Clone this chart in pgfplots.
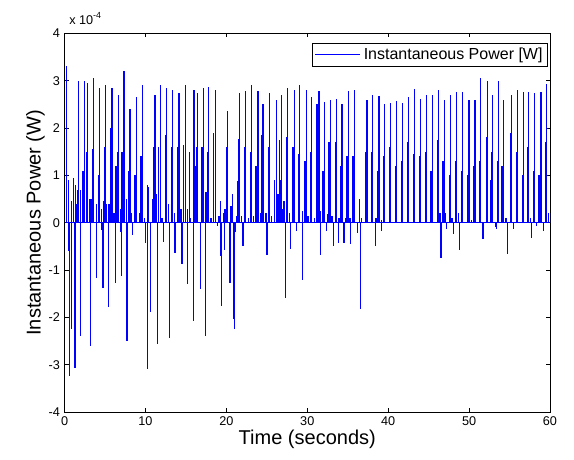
\documentclass[border=0pt]{standalone}
\usepackage{fontspec}
\setmainfont{Liberation Sans}
\usepackage{pgfplots}
\pgfplotsset{compat=1.18}

% spikes of the instantaneous power, in units of 1e-4 W
\pgfplotstableread{
t v
0.23 3.3
0.47 0.9
0.50 -0.6
0.60 -3.24
0.85 0.45
0.88 -2.25
1.09 0.95
1.30 -3.06
1.33 0.8
1.46 0.4
1.60 0.5
1.67 0.7
1.75 3.0
1.97 0.7
2.00 -2.4
2.29 1.1
2.45 3.0
2.70 1.5
2.86 2.95
3.11 0.5
3.24 -2.6
3.27 0.5
3.44 1.55
3.60 3.05
3.93 0.4
3.96 -1.16
4.22 1.0
4.35 2.85
4.55 0.3
4.58 -0.15
4.76 -1.37
4.80 0.45
4.93 1.6
5.09 2.9
5.20 0.4
5.46 -1.77
5.50 0.4
5.67 2.0
5.87 2.85
6.12 0.2
6.33 -1.28
6.36 1.2
6.53 1.5
6.65 2.7
6.90 0.3
6.93 -0.2
7.07 -1.13
7.10 1.5
7.36 3.2
7.68 0.5
7.73 -2.5
7.93 1.1
8.10 2.4
8.30 0.2
8.43 -0.25
8.71 1.0
8.92 2.65
9.29 0.2
9.46 1.4
9.62 2.9
9.87 0.1
9.99 -0.42
10.24 0.8
10.28 -3.1
10.40 0.75
10.65 -1.89
10.90 0.5
11.02 1.6
11.19 2.7
11.40 0.6
11.44 -0.67
11.52 -2.57
11.64 1.6
11.85 2.9
12.05 0.1
12.26 -0.4
12.46 1.85
12.59 2.85
12.83 0.4
13.00 -2.43
13.21 1.6
13.37 2.8
13.60 0.2
13.66 -0.63
13.99 1.6
14.15 2.75
14.40 0.3
14.52 -0.88
14.73 1.65
14.90 2.9
15.19 0.3
15.22 -1.3
15.47 1.5
15.60 0.1
15.92 -2.08
16.01 2.8
16.25 1.2
16.34 1.6
16.46 2.73
16.79 -1.4
16.91 0.6
17.00 1.6
17.16 2.85
17.45 -2.4
17.49 0.65
17.66 1.5
17.82 2.87
18.10 0.1
18.44 1.9
18.64 2.8
18.89 -0.07
19.10 0.15
19.30 0.45
19.33 -0.7
19.43 -1.76
19.60 0.2
19.80 -0.58
19.83 0.3
20.00 1.6
20.13 2.36
20.46 -1.27
20.58 0.35
20.75 0.6
20.91 -2.04
21.03 -2.25
21.16 -0.2
21.25 0.15
21.40 0.88
21.49 1.76
21.65 2.73
21.90 0.15
22.06 -0.5
22.27 1.6
22.39 2.78
22.70 0.1
22.97 1.5
23.09 2.9
23.35 0.15
23.67 1.2
23.80 1.75
23.92 2.78
24.20 0.2
24.37 1.85
24.53 2.5
24.90 0.2
25.03 -0.68
25.20 1.6
25.36 2.75
25.60 0.15
25.90 0.9
26.18 2.6
26.39 0.6
26.55 1.75
26.68 0.9
26.80 2.7
26.90 0.3
27.13 0.45
27.30 -1.58
27.46 1.8
27.59 2.85
27.80 0.2
27.95 -0.56
28.24 1.6
28.41 2.8
28.66 -0.18
28.90 1.45
29.03 2.9
29.40 0.25
29.44 -1.21
29.73 1.3
29.89 2.8
30.10 0.15
30.39 1.5
30.55 2.65
30.92 0.1
31.13 1.4
31.21 2.5
31.46 2.78
31.62 0.25
31.66 -0.68
31.95 1.1
32.12 2.56
32.36 -0.18
32.53 0.18
32.69 1.7
32.86 2.6
33.06 0.15
33.23 -0.5
33.44 1.7
33.60 2.62
33.89 -0.42
33.93 0.1
34.10 1.2
34.30 2.5
34.55 -0.42
34.71 0.1
34.92 1.4
35.08 2.78
35.29 0.1
35.37 -0.46
35.66 1.4
35.87 2.8
36.20 -0.21
36.44 0.5
36.57 -1.83
36.73 0.1
37.23 1.5
37.39 2.6
37.93 1.5
38.09 2.7
38.46 -0.5
38.50 0.1
38.67 1.1
38.87 2.67
39.16 -0.18
39.20 0.05
39.41 1.4
39.58 2.5
40.15 1.6
40.32 2.53
40.89 1.2
41.06 2.58
41.63 1.3
41.80 2.53
42.38 1.7
42.54 2.66
43.12 1.45
43.28 2.83
43.86 1.4
44.03 2.62
44.60 1.5
44.77 2.7
45.30 1.1
45.47 2.7
46.08 1.75
46.21 2.8
46.41 0.2
46.54 -0.74
46.78 1.3
46.95 2.6
47.11 0.2
47.24 -0.13
47.53 1.0
47.69 2.7
47.90 0.1
48.10 -0.23
48.31 1.3
48.47 2.77
48.68 0.2
48.85 -0.58
49.05 1.1
49.22 2.76
49.83 1.0
50.00 2.6
50.25 0.05
50.60 1.2
50.74 2.6
51.36 1.3
51.44 3.05
51.73 -0.35
52.14 1.8
52.31 3.0
52.72 0.9
52.76 1.5
52.92 2.7
53.25 -0.1
53.34 -0.14
53.50 1.3
53.67 3.0
54.08 1.2
54.24 2.6
54.57 0.1
54.78 -0.67
55.07 1.9
55.20 2.7
55.48 -0.14
55.89 1.5
55.97 2.8
56.63 1.0
56.72 2.77
57.21 1.6
57.37 2.77
57.62 0.1
57.74 -0.32
57.99 1.1
58.12 2.75
58.36 -0.07
58.65 1.0
58.90 2.77
59.19 -0.18
59.40 1.7
59.60 2.94
59.80 0.2
}\spikes

\begin{document}
\begin{tikzpicture}
\begin{axis}[
    name=ax,
    scale only axis,
    width=364pt, height=284pt,
    xmin=0, xmax=60, ymin=-4, ymax=4,
    xtick={0,10,...,60},
    ytick={-4,-3,...,4},
    yticklabels={-4,-3,-2,-1,0,1,2,3,4},
    xticklabels={0,10,20,30,40,50,60},
    tick align=inside,
    major tick length=3pt,
    tick style={black, line width=0.4pt},
    axis line style={line width=0.5pt},
    tick label style={font=\fontsize{9.5}{10}\selectfont},
    xlabel={Time (seconds)},
    ylabel={Instantaneous Power (W)},
    label style={font=\fontsize{15}{16}\selectfont},
    xlabel style={yshift=4pt},
    ylabel style={yshift=-4pt},
    legend style={at={(0.995,0.975)}, anchor=north east, draw=black,
        font=\fontsize{12}{13}\selectfont, inner sep=1.5pt, line width=0.5pt},
    legend cell align=left,
    legend image code/.code={\draw[#1] (0pt,0pt) -- (34pt,0pt);},
]
\addplot[blue, line width=0.9pt] coordinates {(0,0) (60,0)};
\addlegendentry{Instantaneous Power [W]}
\addplot[blue, line width=0.9pt, ycomb, forget plot] table[x=t, y=v] {\spikes};
\end{axis}
\node[anchor=base west, font=\fontsize{9.5}{10}\selectfont] at ([yshift=7pt]ax.north west) {x 10\textsuperscript{-4}};
\path ([xshift=-48.4pt,yshift=-35.3pt]ax.south west) rectangle ([xshift=18pt,yshift=25pt]ax.north east);
\end{tikzpicture}
\end{document}
